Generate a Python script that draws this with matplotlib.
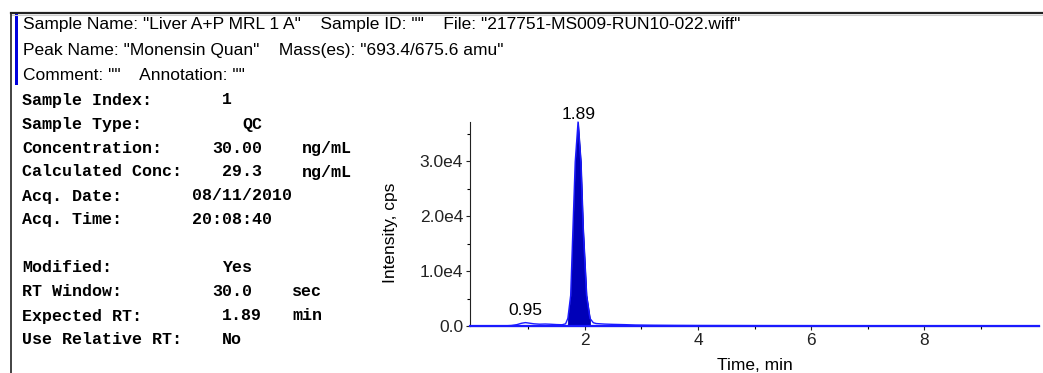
"""
Chromatogram panel - Monensin Quan, Liver A+P MRL 1 A
"""

import matplotlib.pyplot as plt
import numpy as np

W, H = 1043, 373

# Header text
header_lines = [
    'Sample Name: "Liver A+P MRL 1 A"    Sample ID: ""    File: "217751-MS009-RUN10-022.wiff"',
    'Peak Name: "Monensin Quan"    Mass(es): "693.4/675.6 amu"',
    'Comment: ""    Annotation: ""',
]

# Sample info block
info_labels = ["Sample Index:", "Sample Type:", "Concentration:", "Calculated Conc:",
               "Acq. Date:", "Acq. Time:", "", "Modified:", "RT Window:",
               "Expected RT:", "Use Relative RT:"]
info_values = ["1", "QC", "30.00", "29.3", "08/11/2010", "20:08:40", "",
               "Yes", "30.0", "1.89", "No"]
info_units = ["", "", "ng/mL", "ng/mL", "", "", "", "", "sec", "min", ""]

# Chromatogram (time in min, intensity in cps)
time_min = [0.0, 0.3, 0.6, 0.7, 0.8, 0.88, 0.95, 1.02, 1.1, 1.2, 1.3, 1.4, 1.5, 1.6,
            1.66, 1.70, 1.75, 1.79, 1.83, 1.88, 1.93, 1.97, 2.03, 2.09, 2.15,
            2.2, 2.35, 2.5, 2.7, 2.9, 3.2, 3.6, 4.0,
            5.0, 6.0, 7.0, 8.0, 9.0, 10.0]
intensity = [0, 20, 40, 90, 250, 500, 620, 520, 400, 330, 360, 320, 260, 230,
             400, 1400, 5600, 17800, 29900, 37200, 29900, 17800, 5600, 1400, 600,
             450, 350, 300, 250, 180, 140, 110, 90,
             70, 60, 50, 40, 30, 20]

peak_labels = [(1.89, "1.89"), (0.95, "0.95")]
peak_start, peak_end = 1.68, 2.11


def fx(x):
    return x / W


def fy(y):
    return 1 - y / H


fig = plt.figure(figsize=(W / 100, H / 100), dpi=100)
fig.patch.set_facecolor("white")

# Frame lines and blue marker bar
fig.add_artist(plt.Line2D([fx(11), fx(W)], [fy(13), fy(13)], color="#222222", lw=1.6))
fig.add_artist(plt.Line2D([fx(11), fx(W)], [fy(14.8), fy(14.8)], color="#cccccc", lw=0.8))
fig.add_artist(plt.Line2D([fx(11), fx(11)], [fy(13), 0], color="#222222", lw=1.2))
fig.add_artist(plt.Rectangle((fx(15), fy(85)), fx(3.3), (85 - 14) / H,
                             color="#0000dd", lw=0))

# Header
for i, line in enumerate(header_lines):
    fig.text(fx(23), fy(25 + i * 25.5), line, fontsize=12.5, family="Liberation Sans",
             va="center", ha="left", color="black")

# Info block, monospace columns
value_cols = [20, 22, 19, 20, 17, 17, 0, 20, 19, 20, 20]
unit_cols = [0, 0, 28, 28, 0, 0, 0, 0, 27, 27, 0]
row_y = 100
for i, lab in enumerate(info_labels):
    y = row_y + i * 24
    if lab:
        fig.text(fx(22), fy(y), lab, fontsize=12, family="Liberation Mono",
                 weight="bold", va="center")
        fig.text(fx(22 + value_cols[i] * 10), fy(y), info_values[i], fontsize=12,
                 family="Liberation Mono", weight="bold", va="center")
        if info_units[i]:
            fig.text(fx(22 + unit_cols[i] * 10), fy(y), info_units[i], fontsize=12,
                     family="Liberation Mono", weight="bold", va="center")

# Chromatogram axes
ax = fig.add_axes([fx(470), fy(326), (1039 - 470) / W, (326 - 122) / H])
t = np.array(time_min)
inten = np.array(intensity)
mask = (t >= peak_start) & (t <= peak_end)
ax.fill_between(t[mask], inten[mask], color="#0000b8", lw=0.6, edgecolor="#0000b8")
ax.plot(t, inten, color="#1a1aff", lw=1.0, clip_on=False, zorder=3)
ax.axhline(0, color="#1a1aff", lw=1.6, zorder=3, clip_on=False)

ax.set_xlim(-0.03, 10.03)
ax.set_ylim(0, 37200)
ax.set_xticks([2, 4, 6, 8])
ax.set_xticks([1, 3, 5, 7, 9], minor=True)
ax.set_yticks([0, 10000, 20000, 30000])
ax.set_yticklabels(["0.0", "1.0e4", "2.0e4", "3.0e4"])
ax.set_yticks([5000, 15000, 25000, 35000], minor=True)
for s in ["top", "right"]:
    ax.spines[s].set_visible(False)
ax.spines["left"].set_color("#222222")
ax.spines["bottom"].set_color("#222222")
ax.tick_params(axis="both", which="major", length=3, width=0.8, labelsize=12.5,
               pad=2, colors="#222222")
ax.tick_params(axis="both", which="minor", length=2, width=0.8)
for lbl in ax.get_xticklabels() + ax.get_yticklabels():
    lbl.set_family("Liberation Sans")

label_offsets = [6, 3]
for (x, txt), off in zip(peak_labels, label_offsets):
    yv = np.interp(x, t, inten)
    ax.annotate(txt, (x, yv), xytext=(0, off), textcoords="offset points",
                ha="center", va="bottom", fontsize=12.5, family="Liberation Sans",
                annotation_clip=False)

fig.text(fx(390), fy(233), "Intensity, cps", rotation=90, fontsize=12.5,
         family="Liberation Sans", ha="center", va="center")
fig.text(fx(755), fy(366), "Time, min", fontsize=12.5, family="Liberation Sans",
         ha="center", va="center")

plt.savefig("out.png", dpi=100, facecolor=fig.get_facecolor())
plt.close()
